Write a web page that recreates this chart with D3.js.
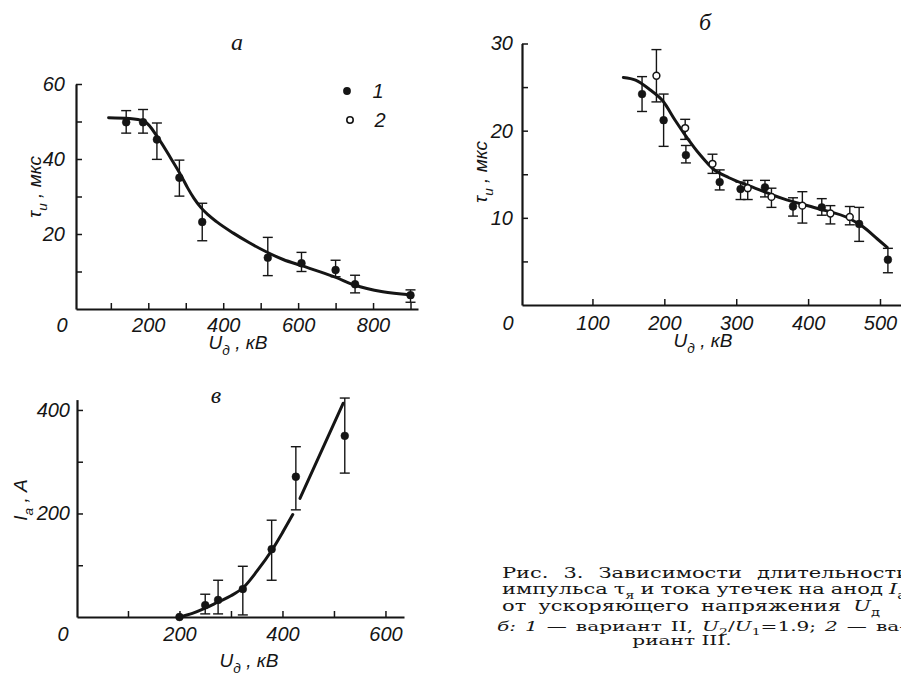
<!DOCTYPE html>
<html><head><meta charset="utf-8">
<script src="https://cdn.jsdelivr.net/npm/d3@7"></script>
<style>body{margin:0;background:#fff} svg{display:block}</style>
</head><body>
<svg id="c" width="901" height="675"></svg>
<script>
// ---------- Panel а : tau vs U (kV) ----------
const aX   = [141, 186, 223, 283, 344, 519, 609, 700, 752, 900];
const aY   = [49.8, 49.8, 45.2, 35.0, 23.2, 13.7, 12.2, 10.4, 6.6, 3.7];
const aLo  = [46.9, 46.9, 39.9, 30.1, 18.2, 8.9, 10.0, 8.6, 4.3, 1.8];
const aHi  = [52.9, 53.2, 49.6, 39.7, 28.2, 19.1, 15.1, 13.0, 9.0, 5.1];
const aCurveX = [94, 150, 190, 227, 260, 289, 305, 322, 340, 360, 382, 426, 471, 516, 560, 611, 699, 750, 826, 898];
const aCurveY = [51.0, 50.8, 50.0, 45.5, 40.2, 35.3, 32.3, 29.5, 27.1, 25.1, 23.3, 20.3, 17.6, 15.2, 13.2, 11.5, 8.5, 6.4, 4.6, 3.8];
const aXTicks = [100, 200, 300, 400, 500, 600, 700, 800, 900];
const aXLabels = [200, 400, 600, 800];
const aYTicks = [10, 20, 30, 40, 50, 60];
const aYLabels = [20, 40, 60];

// ---------- Panel б : tau vs U, two variants ----------
const b1X  = [169, 199, 230, 277, 306, 340, 379, 419, 471, 511];
const b1Y  = [24.2, 21.2, 17.2, 14.1, 13.3, 13.5, 11.3, 11.2, 9.3, 5.2];
const b1Lo = [22.2, 18.2, 16.3, 13.2, 12.1, 12.4, 10.2, 10.3, 7.3, 3.7];
const b1Hi = [26.2, 24.2, 18.3, 15.5, 14.1, 14.3, 12.3, 12.2, 11.2, 6.5];
const b2X  = [189, 229, 267, 316, 349, 392, 431, 458];
const b2Y  = [26.3, 20.3, 16.2, 13.4, 12.4, 11.4, 10.5, 10.1];
const b2Lo = [23.3, 19.0, 15.1, 12.1, 11.2, 9.4, 9.3, 9.2];
const b2Hi = [29.3, 21.3, 17.3, 14.3, 13.4, 13.0, 11.4, 11.3];
const bCurveX = [143, 160, 180, 198, 215, 229, 250, 268, 290, 320, 365, 412, 458, 476, 496, 510];
const bCurveY = [26.1, 25.8, 24.7, 23.4, 21.2, 19.5, 17.2, 15.6, 14.6, 13.6, 12.2, 11.1, 9.9, 9.0, 7.6, 6.6];
const bXTicks = [100, 200, 300, 400, 500];
const bXLabels = [100, 200, 300, 400, 500];
const bYTicks = [5, 10, 15, 20, 25, 30];
const bYLabels = [10, 20, 30];

// ---------- Panel в : I_a vs U ----------
const cX  = [200, 250, 275, 323, 379, 426, 521];
const cY  = [0, 23, 33, 54, 131, 271, 350];
const cLo = [null, 6, 6, 4, 71, 207, 278];
const cHi = [null, 44, 71, 98, 187, 329, 423];
const cCurve1X = [200, 225, 250, 275, 300, 325, 350, 380, 400, 420];
const cCurve1Y = [0, 7, 17, 29, 41, 58, 88, 130, 163, 198];
const cCurve2X = [434, 518];
const cCurve2Y = [229, 413];
const cXTicks = [100, 200, 300, 400, 500, 600];
const cXLabels = [200, 400, 600];
const cYTicks = [100, 200, 300, 400];
const cYLabels = [200, 400];

// ---------- drawing ----------
const svg = d3.select("#c");
const INK = "#151515";
const TF = "'Liberation Sans Narrow','Liberation Sans',Arial,sans-serif";
const SERIF = "'DejaVu Serif','Liberation Serif',serif";

const xa = d3.scaleLinear().domain([7, 920]).range([76, 418]);
const ya = d3.scaleLinear().domain([0, 60]).range([309, 84]);
const xb = d3.scaleLinear().domain([2, 532]).range([522, 903]);
const yb = d3.scaleLinear().domain([0, 30]).range([305, 43.5]);
const xc = d3.scaleLinear().domain([1, 636]).range([77, 404]);
const yc = d3.scaleLinear().domain([0, 420]).range([617, 399.6]);

function styleAxis(g) {
  g.attr("font-family", TF).attr("font-size", 20).attr("font-style", "italic");
  g.selectAll("text").attr("fill", INK);
  g.select(".domain").attr("stroke", INK).attr("stroke-width", 2.2);
  g.selectAll(".tick line").attr("stroke", INK).attr("stroke-width", 1.5);
}
function axes(x, y, o) {
  const gx = svg.append("g").attr("transform", `translate(0,${y.range()[0]})`)
    .call(d3.axisBottom(x).tickValues(o.xt).tickSize(-6).tickSizeOuter(0).tickPadding(o.xp)
      .tickFormat(d => o.xl.includes(d) ? d : ""));
  styleAxis(gx);
  const gy = svg.append("g").attr("transform", `translate(${x.range()[0]},0)`)
    .call(d3.axisLeft(y).tickValues(o.yt).tickSize(-6).tickSizeOuter(0).tickPadding(o.yp)
      .tickFormat(d => o.yl.includes(d) ? d : ""));
  styleAxis(gy);
  svg.append("text").attr("x", x.range()[0] - 14).attr("y", y.range()[0] + o.xp + 14)
    .attr("text-anchor", "middle").attr("font-family", TF).attr("font-size", 20)
    .attr("font-style", "italic").attr("fill", INK).text("0");
}
function curve(x, y, xs, ys) {
  const pts = xs.map((v, i) => [x(v), y(ys[i])]);
  svg.append("path").attr("d", d3.line().curve(d3.curveMonotoneX)(pts))
    .attr("fill", "none").attr("stroke", INK).attr("stroke-width", 3).attr("stroke-linecap", "round");
}
function errs(x, y, xs, los, his) {
  xs.forEach((v, i) => {
    if (los[i] == null) return;
    const px = x(v), y1 = y(his[i]), y2 = y(los[i]);
    const g = svg.append("g").attr("stroke", INK).attr("stroke-width", 1.4);
    g.append("line").attr("x1", px).attr("x2", px).attr("y1", y1).attr("y2", y2);
    g.append("line").attr("x1", px - 5).attr("x2", px + 5).attr("y1", y1).attr("y2", y1);
    g.append("line").attr("x1", px - 5).attr("x2", px + 5).attr("y1", y2).attr("y2", y2);
  });
}
function dots(x, y, xs, ys, open) {
  xs.forEach((v, i) => {
    svg.append("circle").attr("cx", x(v)).attr("cy", y(ys[i]))
      .attr("r", open ? 3.4 : 3.9)
      .attr("fill", open ? "#fff" : INK).attr("stroke", INK).attr("stroke-width", open ? 1.5 : 0.5);
  });
}
function subText(sel, parts, size) {
  let shift = 0;
  parts.forEach(([t, sub]) => {
    const want = sub ? size * 0.3 : 0;
    const ts = sel.append("tspan").attr("dy", want - shift).text(t);
    if (sub) ts.attr("font-size", size * 0.72);
    shift = want;
  });
}
function axisTitle(x, y, parts, rot) {
  const t = svg.append("text").attr("transform", `translate(${x},${y})` + (rot ? " rotate(-90)" : ""))
    .attr("text-anchor", "middle").attr("font-family", TF).attr("font-size", 19)
    .attr("font-style", "italic").attr("fill", INK);
  subText(t, parts, 19);
}
function title(x, y, s) {
  svg.append("text").attr("x", x).attr("y", y).attr("text-anchor", "middle")
    .attr("font-family", "'Liberation Serif',serif").attr("font-style", "italic")
    .attr("font-size", 24).attr("fill", INK).text(s);
}

// Panel а
axes(xa, ya, {xt: aXTicks, xl: aXLabels, yt: aYTicks, yl: aYLabels, xp: 9, yp: 11});
curve(xa, ya, aCurveX, aCurveY);
errs(xa, ya, aX, aLo, aHi);
dots(xa, ya, aX, aY, false);
title(237, 50, "а");
axisTitle(41, 187, [["τ"], ["и", 1], [" , мкс"]], true);
axisTitle(238, 349, [["U"], ["д", 1], [" , кВ"]], false);
svg.append("circle").attr("cx", 347).attr("cy", 91).attr("r", 3.9).attr("fill", INK);
svg.append("circle").attr("cx", 350).attr("cy", 120).attr("r", 3.2).attr("fill", "#fff").attr("stroke", INK).attr("stroke-width", 1.6);
svg.append("text").attr("x", 378).attr("y", 98).attr("text-anchor", "middle").attr("font-family", TF)
  .attr("font-size", 20).attr("font-style", "italic").attr("fill", INK).text("1");
svg.append("text").attr("x", 380).attr("y", 127).attr("text-anchor", "middle").attr("font-family", TF)
  .attr("font-size", 20).attr("font-style", "italic").attr("fill", INK).text("2");

// Panel б
axes(xb, yb, {xt: bXTicks, xl: bXLabels, yt: bYTicks, yl: bYLabels, xp: 11, yp: 9});
curve(xb, yb, bCurveX, bCurveY);
errs(xb, yb, b1X, b1Lo, b1Hi);
errs(xb, yb, b2X, b2Lo, b2Hi);
dots(xb, yb, b1X, b1Y, false);
dots(xb, yb, b2X, b2Y, true);
title(705, 30, "б");
axisTitle(487, 172, [["τ"], ["и", 1], [" , мкс"]], true);
axisTitle(703, 347, [["U"], ["д", 1], [" , кВ"]], false);

// Panel в
axes(xc, yc, {xt: cXTicks, xl: cXLabels, yt: cYTicks, yl: cYLabels, xp: 10, yp: 7});
curve(xc, yc, cCurve1X, cCurve1Y);
curve(xc, yc, cCurve2X, cCurve2Y);
errs(xc, yc, cX, cLo, cHi);
dots(xc, yc, cX, cY, false);
title(216, 403, "в");
axisTitle(27, 500, [["I"], ["а", 1], [" , А"]], true);
axisTitle(249, 667, [["U"], ["д", 1], [" , кВ"]], false);

// ---------- caption ----------
const cap = svg.append("g").attr("font-family", SERIF).attr("fill", INK);
function build(words, y, size) {
  const nodes = words.map(w => {
    const t = cap.append("text").attr("y", y).attr("font-size", size);
    let shift = 0;
    w.forEach(p => {
      const want = p.sub ? size * 0.3 : 0;
      const ts = t.append("tspan").attr("dy", want - shift).text(p.t);
      if (p.sub) ts.attr("font-size", size * 0.7);
      if (p.i) ts.attr("font-style", "italic");
      shift = want;
    });
    return t;
  });
  return {nodes, widths: nodes.map(n => n.node().getComputedTextLength())};
}
function fitFactor(line, x0, x1, gap) {
  return (x1 - x0 - gap * (line.nodes.length - 1)) / d3.sum(line.widths);
}
function place(line, f, x0, x1) {
  const w = line.widths.map(v => v * f);
  const gap = line.nodes.length > 1 ? (x1 - x0 - d3.sum(w)) / (line.nodes.length - 1) : 0;
  let x = x0;
  line.nodes.forEach((n, i) => {
    n.attr("x", x).attr("textLength", w[i]).attr("lengthAdjust", "spacingAndGlyphs");
    x += w[i] + gap;
  });
}
const W = s => [{t: s}];
const L1 = build([W("Рис."), W("3."), W("Зависимости"), W("длительности")], 578, 15);
const L2 = build([W("импульса"), [{t: "τ"}, {t: "я", sub: 1}], W("и"), W("тока"), W("утечек"), W("на"), W("анод"),
         [{t: "I", i: 1}, {t: "а", sub: 1}]], 594, 15);
const L3 = build([W("от"), W("ускоряющего"), W("напряжения"), [{t: "U", i: 1}, {t: "д", sub: 1}]], 611, 15);
const L4 = build([[{t: "б:", i: 1}], [{t: "1", i: 1}], W("—"), W("вариант"), W("II,"),
         [{t: "U", i: 1}, {t: "2", sub: 1}, {t: "/"}, {t: "U", i: 1}, {t: "1", sub: 1}, {t: "=1.9;"}],
         [{t: "2", i: 1}], W("—"), W("ва-")], 631, 12);
const L5 = build([W("риант III.")], 645, 12);
const f = fitFactor(L2, 502, 906, 6);
place(L1, f, 502, 910);
place(L2, f, 502, 906);
place(L3, f, 502, 880);
const f4 = fitFactor(L4, 497, 906, 9);
place(L4, f4, 497, 906);
const w5 = L5.widths[0] * f4;
place(L5, f4, 682 - w5 / 2, 682 + w5 / 2);
</script>
</body></html>
